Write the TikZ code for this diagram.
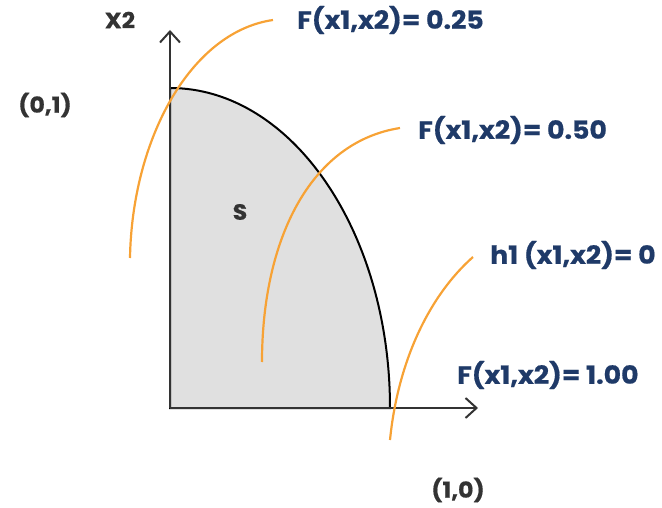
\documentclass[tikz,border=0pt]{standalone}
\usepackage{fontspec}
\setmainfont{Poppins}[FakeStretch=1.07, BoldFeatures={FakeBold=0.6}]
\usetikzlibrary{arrows.meta}
\definecolor{navy}{HTML}{1F3A68}
\definecolor{darkg}{HTML}{333333}
\definecolor{orng}{HTML}{F7A235}
\definecolor{fillg}{HTML}{E0E0E0}
\begin{document}
\begin{tikzpicture}[x=1pt,y=-1pt,
  lbl/.style={font=\fontsize{25}{27}\selectfont\bfseries, text=navy, inner sep=0pt, anchor=west},
  dlbl/.style={font=\fontsize{22}{26}\selectfont\bfseries, text=darkg, inner sep=0pt},
  axis/.style={draw=darkg, line width=2.5pt, -{Straight Barb[length=11pt,width=20pt,line width=2pt]}},
  level/.style={draw=orng, line width=2.2pt}]
\useasboundingbox (0,0) rectangle (662,508);
\coordinate (O) at (170,408);
\coordinate (ytop) at (170,30);
\coordinate (xend) at (478,408);
\coordinate (P01) at (170,88);
\coordinate (P10) at (390,408);
% region S
\filldraw[fill=fillg, draw=black, line width=2pt] (O) -- (P01) arc[start angle=90, end angle=0, x radius=220, y radius=-320] -- cycle;
% axes
\draw[axis] (O) -- (ytop);
\draw[axis] (O) -- (xend);
% level curves
\draw[level] (130,258) .. controls (132,140) and (190,32) .. (273,20);
\draw[level] (262,362) .. controls (262,240) and (310,142) .. (400,128);
\draw[level] (390,440) .. controls (398,360) and (430,295) .. (473,257);
% labels
\node[dlbl] (S) at (240,212) {S};
\node[dlbl] (X2) at (120,20) {X2};
\node[dlbl] (l01) at (45,105) {(0,1)};
\node[dlbl] (l10) at (458,490) {(1,0)};
\node[lbl] (f25) at (297,20) {F(x1,x2)= 0.25};
\node[lbl] (f50) at (418,130) {F(x1,x2)= 0.50};
\node[lbl] (h1) at (490,255) {h1 (x1,x2)= 0};
\node[lbl] (f100) at (457,375) {F(x1,x2)= 1.00};
\end{tikzpicture}
\end{document}
